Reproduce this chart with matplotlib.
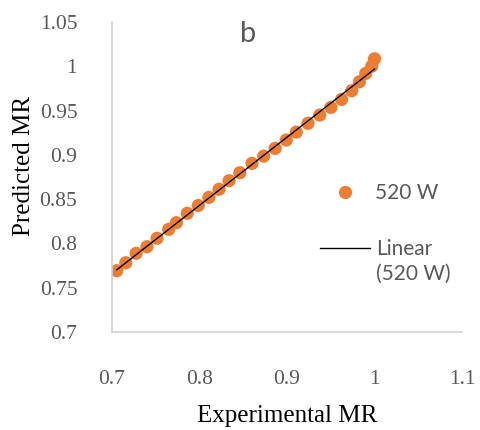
import numpy as np
import matplotlib
matplotlib.use("Agg")
import matplotlib.pyplot as plt
from matplotlib.lines import Line2D

# Data
exp_mr = [0.7054, 0.7158, 0.7276, 0.7399, 0.7514, 0.7648, 0.7736, 0.7860, 0.7986,
          0.8108, 0.8223, 0.8338, 0.8461, 0.8600, 0.8734, 0.8864, 0.8991, 0.9106,
          0.9240, 0.9374, 0.9501, 0.9624, 0.9739, 0.9827, 0.9900, 0.9969, 1.0000]
pred_mr = [0.7692, 0.7782, 0.7888, 0.7963, 0.8058, 0.8159, 0.8234, 0.8340, 0.8428,
           0.8520, 0.8611, 0.8708, 0.8798, 0.8904, 0.8986, 0.9073, 0.9167, 0.9257,
           0.9356, 0.9449, 0.9536, 0.9626, 0.9724, 0.9825, 0.9920, 1.0002, 1.0085]
x_ticks = [0.7, 0.8, 0.9, 1.0, 1.1]
x_tick_labels = ["0.7", "0.8", "0.9", "1", "1.1"]
y_ticks = [0.7, 0.75, 0.8, 0.85, 0.9, 0.95, 1.0, 1.05]
y_tick_labels = ["0.7", "0.75", "0.8", "0.85", "0.9", "0.95", "1", "1.05"]
series_label = "520 W"
trend_label_1 = "Linear"
trend_label_2 = "(520 W)"
panel_label = "b"

orange = "#ED7D31"
gray_txt = "#595959"
axis_col = "#D0D0D0"

W, H = 480, 430
fig = plt.figure(figsize=(4.8, 4.3), dpi=100)
ax = fig.add_axes([112 / W, 1 - 332 / H, (462 - 112) / W, (332 - 22) / H])

x = np.array(exp_mr)
y = np.array(pred_mr)
ax.scatter(x, y, s=9.5 ** 2, color=orange, edgecolors="none", zorder=2)
coef = np.polyfit(x, y, 1)
xl = np.array([x.min(), x.max()])
ax.plot(xl, np.polyval(coef, xl), color="black", lw=1.0, zorder=3)

ax.set_xlim(0.7, 1.1)
ax.set_ylim(0.7, 1.05)
ax.set_xticks(x_ticks)
ax.set_xticklabels(x_tick_labels)
ax.set_yticks(y_ticks)
ax.set_yticklabels(y_tick_labels)
for s in ["top", "right"]:
    ax.spines[s].set_visible(False)
for s in ["left", "bottom"]:
    ax.spines[s].set_color(axis_col)
    ax.spines[s].set_linewidth(1.2)
ax.tick_params(length=0, colors=gray_txt, labelsize=15.5)
ax.tick_params(axis="x", pad=27)
ax.tick_params(axis="y", pad=25)
for lab in ax.get_xticklabels() + ax.get_yticklabels():
    lab.set_family("Liberation Serif")

ax.set_xlabel("Experimental MR", family="Liberation Serif", fontsize=18, color="black", labelpad=12)
ax.set_ylabel("Predicted MR", family="Liberation Serif", fontsize=18, color="black")
ax.yaxis.set_label_coords(-0.22, 0.535)

ax.text(0.39, 0.962, panel_label, transform=ax.transAxes, ha="center", va="center",
        family="Lato", fontsize=21, color=gray_txt)

fs = 15
fpx = fs * 100 / 72
prop = {"family": "Lato", "size": fs}

h1 = [Line2D([], [], ls="none", marker="o", ms=9.5, color=orange, mec="none")]
leg1 = ax.legend(h1, [series_label], loc="center left",
                 bbox_to_anchor=((345 - fpx) / W, 1 - 193 / H), bbox_transform=fig.transFigure,
                 frameon=False, prop=prop, labelcolor=gray_txt, borderpad=0, borderaxespad=0,
                 handlelength=2.0, handletextpad=(375 - 345 - fpx) / fpx)
ax.add_artist(leg1)

h2 = [Line2D([], [], color="black", lw=1.0), Line2D([], [], color="none")]
leg2 = ax.legend(h2, [trend_label_1, trend_label_2], loc="center left",
                 bbox_to_anchor=(320 / W, 1 - 261.5 / H), bbox_transform=fig.transFigure,
                 frameon=False, prop=prop, labelcolor=gray_txt, borderpad=0, borderaxespad=0,
                 handlelength=50 / fpx, handletextpad=6 / fpx, labelspacing=0.25)

fig.savefig("out.png", dpi=100, facecolor="white")
